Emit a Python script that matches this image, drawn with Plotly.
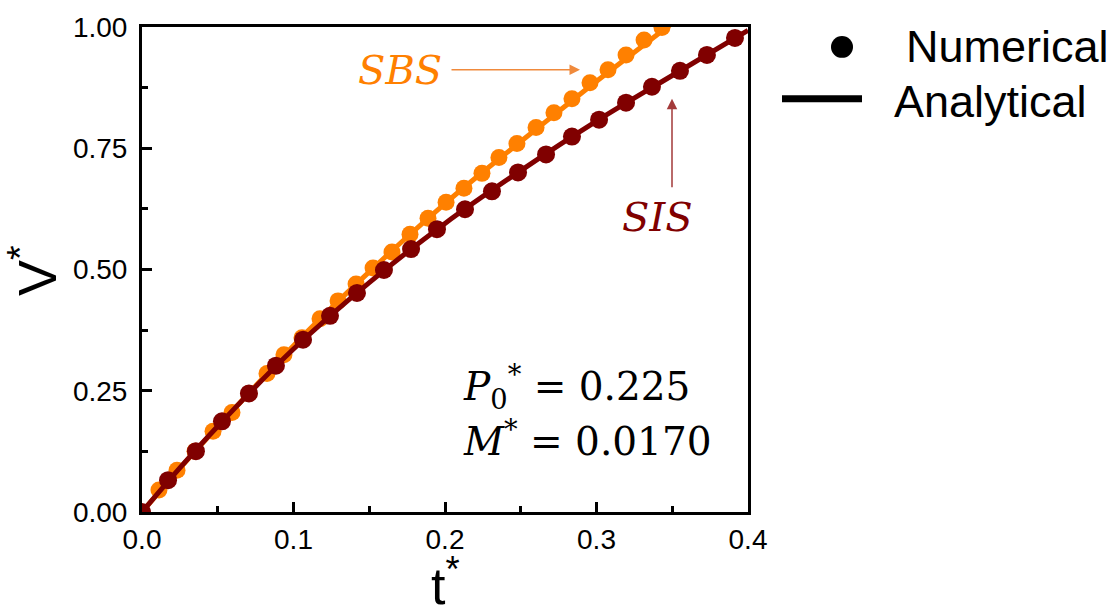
import plotly.graph_objects as go

# Numerical solution, SIS configuration
sis_t = [0.0, 0.0172, 0.0356, 0.0528, 0.0706, 0.0884, 0.1063, 0.1241, 0.1419, 0.1597,
         0.1776, 0.1947, 0.2132, 0.2310, 0.2482, 0.2667, 0.2838, 0.3017, 0.3195, 0.3366,
         0.3551, 0.3729, 0.3914]
sis_v = [0.0, 0.0657, 0.1253, 0.1869, 0.2444, 0.3018, 0.3552, 0.4045, 0.4517, 0.4990,
         0.5421, 0.5832, 0.6242, 0.6612, 0.7002, 0.7372, 0.7741, 0.8090, 0.8439, 0.8768,
         0.9097, 0.9425, 0.9774]

# Numerical solution, SBS configuration
sbs_t = [0.0112, 0.0231, 0.0350, 0.0469, 0.0594, 0.0706, 0.0825, 0.0937, 0.1056, 0.1175,
         0.1294, 0.1413, 0.1525, 0.1650, 0.1769, 0.1888, 0.2007, 0.2125, 0.2244, 0.2356,
         0.2475, 0.2601, 0.2719, 0.2838, 0.2957, 0.3076, 0.3195, 0.3314, 0.3432]
sbs_v = [0.0452, 0.0862, 0.1253, 0.1663, 0.2053, 0.2444, 0.2854, 0.3244, 0.3593, 0.3984,
         0.4353, 0.4702, 0.5031, 0.5359, 0.5729, 0.6057, 0.6386, 0.6674, 0.6982, 0.7310,
         0.7598, 0.7926, 0.8234, 0.8522, 0.8850, 0.9117, 0.9425, 0.9733, 0.9990]

# Analytical curves
sis_line_t = [0.0, 0.025, 0.05, 0.1, 0.15, 0.2, 0.25, 0.3, 0.35, 0.4]
sis_line_v = [0.0, 0.091, 0.177, 0.336, 0.473, 0.595, 0.704, 0.806, 0.900, 0.993]
sbs_line_t = [0.0, 0.025, 0.05, 0.075, 0.1, 0.125, 0.15, 0.175, 0.2, 0.225, 0.25, 0.275,
              0.3, 0.325, 0.35]
sbs_line_v = [0.0, 0.090, 0.176, 0.260, 0.343, 0.421, 0.495, 0.567, 0.636, 0.701, 0.764,
              0.826, 0.888, 0.948, 1.008]

x_ticks = [0.0, 0.1, 0.2, 0.3, 0.4]
y_ticks = [0.0, 0.25, 0.5, 0.75, 1.0]

ORANGE = "#FF8000"
DARKRED = "#800000"
SANS = "Arial, Liberation Sans, sans-serif"
SERIF = "DejaVu Serif, serif"

W, H = 1110, 608
L, R, T, B = 142, 748, 25, 512


def px(xp):
    return (xp - L) / (R - L)


def py(yp):
    return (B - yp) / (B - T)


fig = go.Figure()
fig.add_trace(go.Scatter(x=sbs_t, y=sbs_v, mode="markers",
                         marker=dict(color=ORANGE, size=17), showlegend=False))
fig.add_trace(go.Scatter(x=sbs_line_t, y=sbs_line_v, mode="lines",
                         line=dict(color=ORANGE, width=5, shape="spline"), showlegend=False))
fig.add_trace(go.Scatter(x=sis_t, y=sis_v, mode="markers",
                         marker=dict(color=DARKRED, size=18), showlegend=False))
fig.add_trace(go.Scatter(x=sis_line_t, y=sis_line_v, mode="lines",
                         line=dict(color=DARKRED, width=5, shape="spline"), showlegend=False))

axis_common = dict(
    showline=True, linecolor="black", linewidth=3, mirror=True,
    ticks="inside", ticklen=10, tickwidth=3, tickcolor="black",
    showgrid=False, zeroline=False,
    tickfont=dict(family=SANS, size=28, color="black"),
)

fig.update_xaxes(range=[0, 0.4], tickvals=x_ticks, tickformat=".1f",
                 ticklabelstandoff=0,
                 minor=dict(ticks="inside", ticklen=6, tickwidth=2.5, tickcolor="black",
                            dtick=0.05, showgrid=False),
                 **axis_common)
fig.update_yaxes(range=[0, 1.0], tickvals=y_ticks, tickformat=".2f",
                 ticklabelstandoff=6,
                 minor=dict(ticks="inside", ticklen=6, tickwidth=2.5, tickcolor="black",
                            dtick=0.125, showgrid=False),
                 **axis_common)

annotations = [
    # axis titles
    dict(x=px(445), y=py(582), xref="paper", yref="paper", text="t<sup>*</sup>",
         showarrow=False, font=dict(family=SANS, size=52, color="black"),
         xanchor="center", yanchor="middle"),
    dict(x=px(33), y=py(270), xref="paper", yref="paper", text="V<sup>*</sup>",
         showarrow=False, textangle=-90, font=dict(family=SANS, size=54, color="black"),
         xanchor="center", yanchor="middle"),
    # curve labels
    dict(x=px(356), y=py(68), xref="paper", yref="paper", text="<i>SBS</i>",
         showarrow=False, font=dict(family=SERIF, size=40, color=ORANGE),
         xanchor="left", yanchor="middle"),
    dict(x=px(620), y=py(216), xref="paper", yref="paper", text="<i>SIS</i>",
         showarrow=False, font=dict(family=SERIF, size=40, color=DARKRED),
         xanchor="left", yanchor="middle"),
    # arrows
    dict(x=px(580), y=py(68), xref="paper", yref="paper", text="",
         showarrow=True, ax=-130, ay=0, arrowhead=2, arrowsize=1.4, arrowwidth=1.5,
         arrowcolor="#F08A3C"),
    dict(x=px(672), y=py(97), xref="paper", yref="paper", text="",
         showarrow=True, ax=0, ay=90, arrowhead=2, arrowsize=1.4, arrowwidth=1.5,
         arrowcolor="#A33A3A"),
    # parameters
    dict(x=px(461), y=py(386), xref="paper", yref="paper",
         text="<i>P</i><sub>0</sub><sup>*</sup> = 0.225",
         showarrow=False, font=dict(family=SERIF, size=39, color="black"),
         xanchor="left", yanchor="middle"),
    dict(x=px(461), y=py(439), xref="paper", yref="paper",
         text="<i>M</i><sup>*</sup> = 0.0170",
         showarrow=False, font=dict(family=SERIF, size=39, color="black"),
         xanchor="left", yanchor="middle"),
    # legend labels
    dict(x=px(904), y=py(45), xref="paper", yref="paper", text="Numerical",
         showarrow=False, font=dict(family=SANS, size=45, color="black"),
         xanchor="left", yanchor="middle"),
    dict(x=px(892), y=py(100), xref="paper", yref="paper", text="Analytical",
         showarrow=False, font=dict(family=SANS, size=45, color="black"),
         xanchor="left", yanchor="middle"),
]

shapes = [
    dict(type="circle", xref="paper", yref="paper",
         x0=px(831), x1=px(853), y0=py(56), y1=py(34),
         fillcolor="black", line=dict(color="black", width=0)),
    dict(type="line", xref="paper", yref="paper",
         x0=px(782), x1=px(862), y0=py(97), y1=py(97),
         line=dict(color="black", width=7)),
]

fig.update_layout(
    width=W, height=H,
    margin=dict(l=L, r=W - R, t=T, b=H - B, pad=0),
    plot_bgcolor="white", paper_bgcolor="white",
    showlegend=False,
    annotations=annotations,
    shapes=shapes,
)

fig.write_html("out.html")
